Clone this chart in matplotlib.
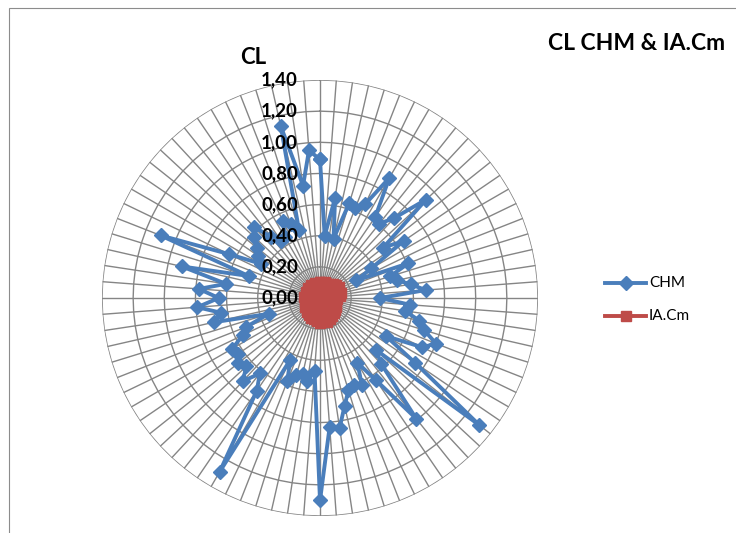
import numpy as np
import matplotlib.pyplot as plt
from matplotlib.lines import Line2D
from matplotlib.patches import Rectangle

plt.rcParams['font.family'] = ['Lato', 'DejaVu Sans']

# monthly values, 7 years, clockwise from the top spoke
chm = [0.89, 0.40, 0.65, 0.39, 0.64, 0.62, 0.67, 0.89, 0.63, 0.61,
       0.70, 0.93, 0.52, 0.65, 0.38, 0.26, 0.61, 0.47, 0.51, 0.59,
       0.68, 0.385, 0.58, 0.55, 0.655, 0.70, 0.80, 0.73, 0.49, 0.74,
       1.31, 0.49, 0.58, 0.99, 0.64, 0.48, 0.62, 0.60, 0.62, 0.71,
       0.845, 0.83, 1.30, 0.47, 0.54, 0.50, 0.515, 0.576, 0.44, 1.29,
       0.72, 0.62, 0.73, 0.645, 0.67, 0.64, 0.65, 0.55, 0.51, 0.345,
       0.70, 0.64, 0.79, 0.65, 0.78, 0.61, 0.91, 0.48, 1.10, 0.65,
       0.44, 0.48, 0.52, 0.58, 0.62, 0.50, 0.44, 0.45, 0.55, 0.51,
       0.46, 1.13, 0.73, 0.95]

ia_cm = [0.10, 0.03, 0.09, 0.06, 0.11, 0.04, 0.10, 0.05, 0.11, 0.03,
         0.12, 0.06, 0.13, 0.04, 0.14, 0.05, 0.13, 0.07, 0.14, 0.04,
         0.13, 0.05, 0.11, 0.04, 0.10, 0.06, 0.11, 0.03, 0.12, 0.05,
         0.12, 0.04, 0.13, 0.06, 0.14, 0.05, 0.15, 0.04, 0.16, 0.06,
         0.15, 0.03, 0.16, 0.05, 0.15, 0.04, 0.14, 0.06, 0.14, 0.05,
         0.13, 0.03, 0.12, 0.05, 0.11, 0.04, 0.11, 0.06, 0.10, 0.04,
         0.10, 0.05, 0.09, 0.03, 0.10, 0.06, 0.09, 0.04, 0.10, 0.05,
         0.09, 0.03, 0.10, 0.05, 0.09, 0.04, 0.10, 0.06, 0.09, 0.03,
         0.10, 0.05, 0.09, 0.04]

ring_levels = [0.2, 0.4, 0.6, 0.8, 1.0, 1.2, 1.4]
tick_values = [0.0, 0.2, 0.4, 0.6, 0.8, 1.0, 1.2, 1.4]
tick_labels = ["0,00", "0,20", "0,40", "0,60", "0,80", "1,00", "1,20", "1,40"]

blue = '#4A7EBB'
red = '#BE4B48'
grid_col = '#858585'

W, H = 736, 533
fig = plt.figure(figsize=(W / 100, H / 100), dpi=100)

# chart area border
fig.add_artist(Rectangle((8.5 / W, -0.1), 1.0, 1.1 - 8.5 / H, transform=fig.transFigure,
                         fill=False, edgecolor='#8C8C8C', lw=0.8))

cx, cy, R = 320, 298, 218
ax = fig.add_axes([(cx - R) / W, (H - cy - R) / H, 2 * R / W, 2 * R / H], projection='polar')
ax.set_theta_zero_location('N')
ax.set_theta_direction(-1)
ax.set_ylim(0, 1.4)
ax.grid(False)
ax.set_xticks([])
ax.set_yticks([])
ax.spines['polar'].set_visible(False)
ax.patch.set_alpha(0)

n = len(chm)
theta = np.arange(n) * 2 * np.pi / n
closed = np.append(theta, theta[0])

# polygon rings and spokes
for lv in ring_levels:
    ax.plot(closed, [lv] * (n + 1), color=grid_col, lw=1.0, zorder=1)
for t in theta:
    ax.plot([t, t], [0, 1.4], color=grid_col, lw=1.0, zorder=1)

ax.plot(closed, chm + chm[:1], color=blue, lw=2.8, marker='D', ms=7,
        zorder=3, clip_on=False)
ax.plot(closed, ia_cm + ia_cm[:1], color=red, lw=2.8, marker='s', ms=7,
        zorder=4, clip_on=False)

for v, lab in zip(tick_values, tick_labels):
    ax.annotate(lab, xy=(0, v), xytext=(-22, 0), textcoords='offset pixels',
                ha='right', va='center', fontsize=13.5, fontweight='bold', zorder=5)

fig.text(253 / W, 1 - 58 / H, "CL", ha='center', va='center', fontsize=16, fontweight='bold')
fig.text(637 / W, 1 - 43 / H, "CL CHM & IA.Cm", ha='center', va='center',
         fontsize=16.5, fontweight='bold')

# legend
for y, col, mk, lab in [(283, blue, 'D', "CHM"), (316, red, 's', "IA.Cm")]:
    fy = 1 - y / H
    fig.add_artist(Line2D([605 / W, 625.5 / W, 646 / W], [fy, fy, fy], transform=fig.transFigure,
                          color=col, lw=2.8, marker=mk, ms=7, markevery=[1]))
    fig.text(649 / W, fy, lab, ha='left', va='center', fontsize=11)

fig.savefig('out.png', dpi=100)
